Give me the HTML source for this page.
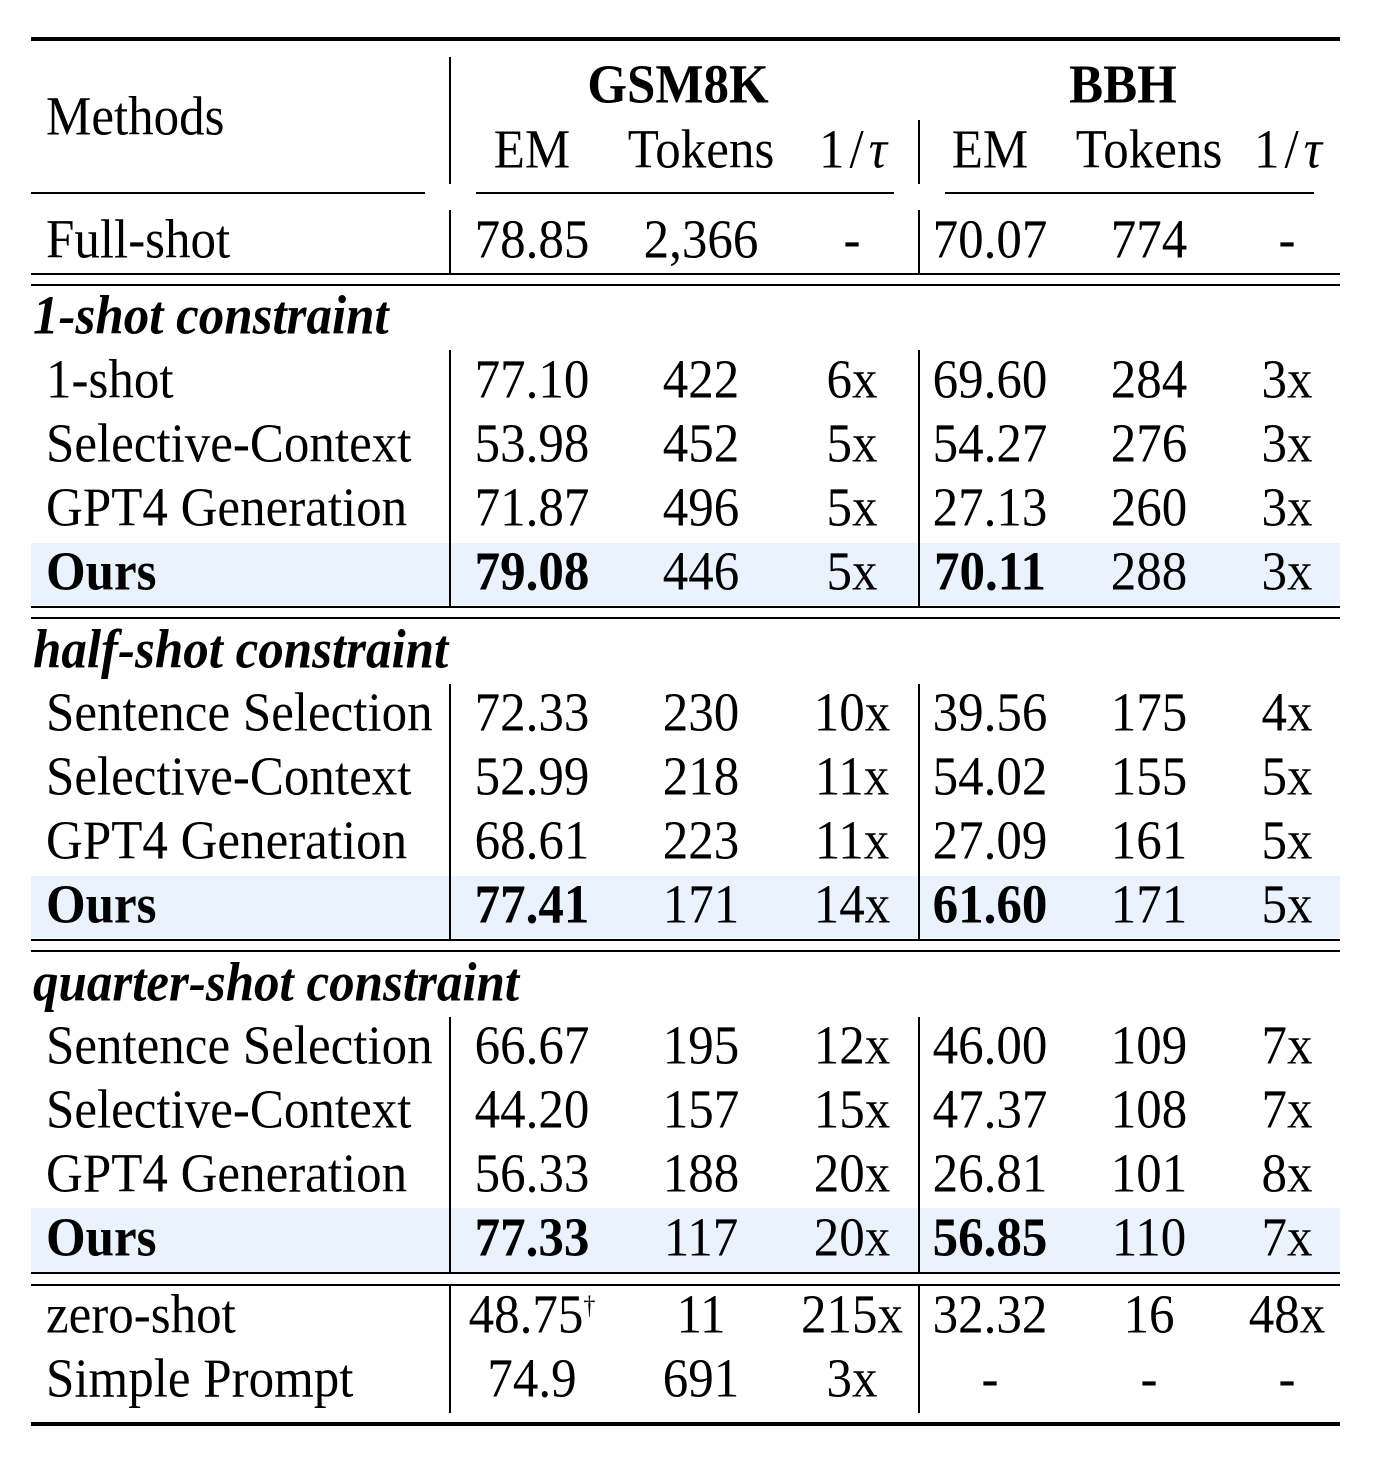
<html><head><style>
body{margin:0;width:1396px;height:1480px;background:#fff;position:relative;font-family:"Liberation Serif",serif;font-size:51px;color:#000}
.t{position:absolute;line-height:56px;white-space:nowrap;transform:scaleY(1.08)}
.t.c{transform:translateX(-50%) scaleY(1.08)}
.h{position:absolute;background:#000}
.hl{position:absolute;left:31px;width:1309px;background:#eaf2fd}
b{font-weight:bold}
.s{font-weight:bold;font-style:italic}
</style></head><body>
<div class="hl" style="top:543px;height:62px"></div>
<div class="hl" style="top:876px;height:62px"></div>
<div class="hl" style="top:1208px;height:64px"></div>

<div class="h" style="left:31px;top:37px;width:1309px;height:4px"></div>
<div class="h" style="left:31px;top:192px;width:394px;height:2px"></div>
<div class="h" style="left:476px;top:192px;width:418px;height:2px"></div>
<div class="h" style="left:945px;top:192px;width:369px;height:2px"></div>
<div class="h" style="left:31px;top:273px;width:1309px;height:2px"></div>
<div class="h" style="left:31px;top:284px;width:1309px;height:2px"></div>
<div class="h" style="left:31px;top:606px;width:1309px;height:2px"></div>
<div class="h" style="left:31px;top:617px;width:1309px;height:2px"></div>
<div class="h" style="left:31px;top:939px;width:1309px;height:2px"></div>
<div class="h" style="left:31px;top:950px;width:1309px;height:2px"></div>
<div class="h" style="left:31px;top:1272px;width:1309px;height:2px"></div>
<div class="h" style="left:31px;top:1284px;width:1309px;height:2px"></div>
<div class="h" style="left:31px;top:1422px;width:1309px;height:4px"></div>

<div class="h" style="left:449px;top:57px;width:2px;height:127px"></div>
<div class="h" style="left:918px;top:120px;width:2px;height:64px"></div>
<div class="h" style="left:449px;top:210px;width:2px;height:63px"></div>
<div class="h" style="left:918px;top:210px;width:2px;height:63px"></div>
<div class="h" style="left:449px;top:350px;width:2px;height:256px"></div>
<div class="h" style="left:918px;top:350px;width:2px;height:256px"></div>
<div class="h" style="left:449px;top:684px;width:2px;height:255px"></div>
<div class="h" style="left:918px;top:684px;width:2px;height:255px"></div>
<div class="h" style="left:449px;top:1017px;width:2px;height:255px"></div>
<div class="h" style="left:918px;top:1017px;width:2px;height:255px"></div>
<div class="h" style="left:449px;top:1286px;width:2px;height:127px"></div>
<div class="h" style="left:918px;top:1286px;width:2px;height:127px"></div>

<div class="t" style="left:46px;top:89px">Methods</div>
<div class="t c" style="left:678px;top:57px"><b>GSM8K</b></div>
<div class="t c" style="left:1123px;top:57px"><b>BBH</b></div>
<div class="t c" style="left:532px;top:122px">EM</div>
<div class="t c" style="left:701px;top:122px">Tokens</div>
<div class="t c" style="left:853px;top:122px">1<span style="margin:0 5px">/</span><i>τ</i></div>
<div class="t c" style="left:990px;top:122px">EM</div>
<div class="t c" style="left:1149px;top:122px">Tokens</div>
<div class="t c" style="left:1288px;top:122px">1<span style="margin:0 5px">/</span><i>τ</i></div>

<div class="t" style="left:46px;top:212px">Full-shot</div>
<div class="t c" style="left:532px;top:212px">78.85</div>
<div class="t c" style="left:701px;top:212px">2,366</div>
<div class="t c" style="left:852px;top:212px">-</div>
<div class="t c" style="left:990px;top:212px">70.07</div>
<div class="t c" style="left:1149px;top:212px">774</div>
<div class="t c" style="left:1287px;top:212px">-</div>

<div class="t s" style="left:33px;top:288px">1-shot constraint</div>
<div class="t" style="left:46px;top:352px">1-shot</div><div class="t c" style="left:532px;top:352px">77.10</div><div class="t c" style="left:701px;top:352px">422</div><div class="t c" style="left:852px;top:352px">6x</div><div class="t c" style="left:990px;top:352px">69.60</div><div class="t c" style="left:1149px;top:352px">284</div><div class="t c" style="left:1287px;top:352px">3x</div>
<div class="t" style="left:46px;top:416px">Selective-Context</div><div class="t c" style="left:532px;top:416px">53.98</div><div class="t c" style="left:701px;top:416px">452</div><div class="t c" style="left:852px;top:416px">5x</div><div class="t c" style="left:990px;top:416px">54.27</div><div class="t c" style="left:1149px;top:416px">276</div><div class="t c" style="left:1287px;top:416px">3x</div>
<div class="t" style="left:46px;top:480px">GPT4 Generation</div><div class="t c" style="left:532px;top:480px">71.87</div><div class="t c" style="left:701px;top:480px">496</div><div class="t c" style="left:852px;top:480px">5x</div><div class="t c" style="left:990px;top:480px">27.13</div><div class="t c" style="left:1149px;top:480px">260</div><div class="t c" style="left:1287px;top:480px">3x</div>
<div class="t" style="left:46px;top:544px"><b>Ours</b></div><div class="t c" style="left:532px;top:544px"><b>79.08</b></div><div class="t c" style="left:701px;top:544px">446</div><div class="t c" style="left:852px;top:544px">5x</div><div class="t c" style="left:990px;top:544px"><b>70.11</b></div><div class="t c" style="left:1149px;top:544px">288</div><div class="t c" style="left:1287px;top:544px">3x</div>

<div class="t s" style="left:33px;top:622px">half-shot constraint</div>
<div class="t" style="left:46px;top:685px">Sentence Selection</div><div class="t c" style="left:532px;top:685px">72.33</div><div class="t c" style="left:701px;top:685px">230</div><div class="t c" style="left:852px;top:685px">10x</div><div class="t c" style="left:990px;top:685px">39.56</div><div class="t c" style="left:1149px;top:685px">175</div><div class="t c" style="left:1287px;top:685px">4x</div>
<div class="t" style="left:46px;top:749px">Selective-Context</div><div class="t c" style="left:532px;top:749px">52.99</div><div class="t c" style="left:701px;top:749px">218</div><div class="t c" style="left:852px;top:749px">11x</div><div class="t c" style="left:990px;top:749px">54.02</div><div class="t c" style="left:1149px;top:749px">155</div><div class="t c" style="left:1287px;top:749px">5x</div>
<div class="t" style="left:46px;top:813px">GPT4 Generation</div><div class="t c" style="left:532px;top:813px">68.61</div><div class="t c" style="left:701px;top:813px">223</div><div class="t c" style="left:852px;top:813px">11x</div><div class="t c" style="left:990px;top:813px">27.09</div><div class="t c" style="left:1149px;top:813px">161</div><div class="t c" style="left:1287px;top:813px">5x</div>
<div class="t" style="left:46px;top:877px"><b>Ours</b></div><div class="t c" style="left:532px;top:877px"><b>77.41</b></div><div class="t c" style="left:701px;top:877px">171</div><div class="t c" style="left:852px;top:877px">14x</div><div class="t c" style="left:990px;top:877px"><b>61.60</b></div><div class="t c" style="left:1149px;top:877px">171</div><div class="t c" style="left:1287px;top:877px">5x</div>

<div class="t s" style="left:33px;top:955px">quarter-shot constraint</div>
<div class="t" style="left:46px;top:1018px">Sentence Selection</div><div class="t c" style="left:532px;top:1018px">66.67</div><div class="t c" style="left:701px;top:1018px">195</div><div class="t c" style="left:852px;top:1018px">12x</div><div class="t c" style="left:990px;top:1018px">46.00</div><div class="t c" style="left:1149px;top:1018px">109</div><div class="t c" style="left:1287px;top:1018px">7x</div>
<div class="t" style="left:46px;top:1082px">Selective-Context</div><div class="t c" style="left:532px;top:1082px">44.20</div><div class="t c" style="left:701px;top:1082px">157</div><div class="t c" style="left:852px;top:1082px">15x</div><div class="t c" style="left:990px;top:1082px">47.37</div><div class="t c" style="left:1149px;top:1082px">108</div><div class="t c" style="left:1287px;top:1082px">7x</div>
<div class="t" style="left:46px;top:1146px">GPT4 Generation</div><div class="t c" style="left:532px;top:1146px">56.33</div><div class="t c" style="left:701px;top:1146px">188</div><div class="t c" style="left:852px;top:1146px">20x</div><div class="t c" style="left:990px;top:1146px">26.81</div><div class="t c" style="left:1149px;top:1146px">101</div><div class="t c" style="left:1287px;top:1146px">8x</div>
<div class="t" style="left:46px;top:1210px"><b>Ours</b></div><div class="t c" style="left:532px;top:1210px"><b>77.33</b></div><div class="t c" style="left:701px;top:1210px">117</div><div class="t c" style="left:852px;top:1210px">20x</div><div class="t c" style="left:990px;top:1210px"><b>56.85</b></div><div class="t c" style="left:1149px;top:1210px">110</div><div class="t c" style="left:1287px;top:1210px">7x</div>

<div class="t" style="left:46px;top:1287px">zero-shot</div><div class="t c" style="left:532px;top:1287px">48.75<sup style="font-size:24px;vertical-align:top;line-height:40px">†</sup></div><div class="t c" style="left:701px;top:1287px">11</div><div class="t c" style="left:852px;top:1287px">215x</div><div class="t c" style="left:990px;top:1287px">32.32</div><div class="t c" style="left:1149px;top:1287px">16</div><div class="t c" style="left:1287px;top:1287px">48x</div>
<div class="t" style="left:46px;top:1351px">Simple Prompt</div><div class="t c" style="left:532px;top:1351px">74.9</div><div class="t c" style="left:701px;top:1351px">691</div><div class="t c" style="left:852px;top:1351px">3x</div><div class="t c" style="left:990px;top:1351px">-</div><div class="t c" style="left:1149px;top:1351px">-</div><div class="t c" style="left:1287px;top:1351px">-</div>
</body></html>
